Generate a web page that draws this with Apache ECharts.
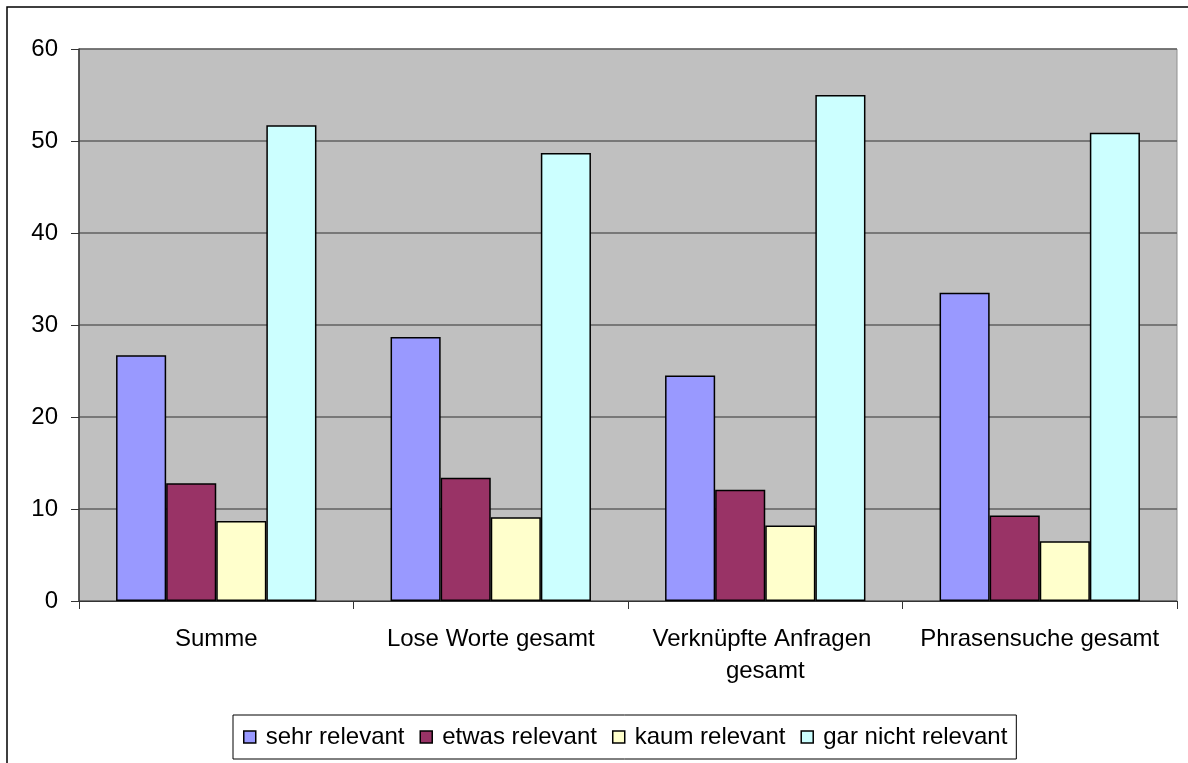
<!DOCTYPE html>
<html>
<head>
<meta charset="utf-8">
<script src="https://cdn.jsdelivr.net/npm/echarts@6/dist/echarts.min.js"></script>
<style>
html,body{margin:0;padding:0;background:#fff;}
#chart{width:1188px;height:763px;}
</style>
</head>
<body>
<div id="chart"></div>
<script>
var categories = ['Summe', 'Lose Worte gesamt', 'Verknüpfte Anfragen gesamt', 'Phrasensuche gesamt'];
var seriesNames = ['sehr relevant', 'etwas relevant', 'kaum relevant', 'gar nicht relevant'];
var sehrRelevant = [26.7, 28.7, 24.5, 33.5];
var etwasRelevant = [12.8, 13.4, 12.1, 9.3];
var kaumRelevant = [8.7, 9.1, 8.2, 6.5];
var garNichtRelevant = [51.7, 48.7, 55.0, 50.9];
var yTicks = [0, 10, 20, 30, 40, 50, 60];
var colors = ['#9999FF', '#993366', '#FFFFCC', '#CCFFFF'];

var FONT = "'Liberation Sans', Arial, sans-serif";
var chart = echarts.init(document.getElementById('chart'));
var values = [sehrRelevant, etwasRelevant, kaumRelevant, garNichtRelevant];

chart.setOption({
  animation: false,
  backgroundColor: '#ffffff',
  color: colors,
  textStyle: { fontFamily: FONT },
  graphic: [{
    type: 'rect',
    silent: true,
    shape: { x: 7, y: 7, width: 1300, height: 900 },
    style: { fill: 'none', stroke: '#000', lineWidth: 1.5 },
    z: -1
  }],
  grid: {
    left: 79, right: 11, top: 49, bottom: 162,
    show: true, backgroundColor: '#C0C0C0', borderColor: '#909090', borderWidth: 1,
    containLabel: false
  },
  legend: {
    data: seriesNames,
    left: 233, top: 715,
    orient: 'horizontal',
    padding: [10, 9, 10, 10],
    itemGap: 15,
    itemWidth: 12, itemHeight: 12,
    icon: 'rect',
    borderColor: '#000', borderWidth: 1,
    itemStyle: { borderColor: '#000', borderWidth: 1.5 },
    textStyle: { fontFamily: FONT, fontSize: 24, color: '#000', padding: [0, 0, 0, 5], lineHeight: 24 }
  },
  xAxis: {
    type: 'category',
    data: categories,
    axisLine: { show: true, lineStyle: { color: '#333', width: 1 } },
    axisTick: { show: true, length: 8, lineStyle: { color: '#333' } },
    axisLabel: {
      fontFamily: FONT, fontSize: 24, color: '#000', margin: 22,
      width: 264, overflow: 'break', lineHeight: 32, interval: 0
    },
    splitLine: { show: false }
  },
  yAxis: {
    type: 'value',
    min: yTicks[0], max: yTicks[yTicks.length - 1], interval: 10,
    axisLine: { show: true, lineStyle: { color: '#333', width: 1.5 } },
    axisTick: { show: true, length: 8, lineStyle: { color: '#333' } },
    axisLabel: { fontFamily: FONT, fontSize: 24, color: '#000', margin: 21 },
    splitLine: { show: true, lineStyle: { color: '#606060', width: 1.5 } }
  },
  series: seriesNames.map(function (name, i) {
    return {
      name: name,
      type: 'bar',
      data: values[i],
      barGap: '0%',
      barCategoryGap: '27%',
      itemStyle: { color: colors[i], borderColor: '#000', borderWidth: 1.5 }
    };
  })
});
</script>
</body>
</html>
